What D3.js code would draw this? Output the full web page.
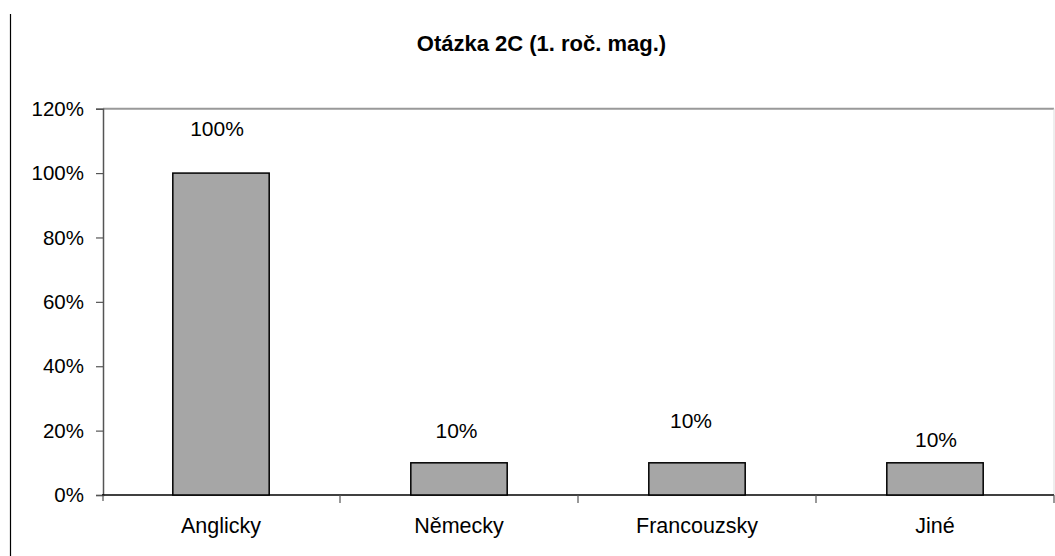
<!DOCTYPE html>
<html><head><meta charset="utf-8">
<script src="https://cdn.jsdelivr.net/npm/d3@7"></script>
<style>body{margin:0;background:#fff}svg{display:block;font-family:"Liberation Sans",Arial,sans-serif}</style>
</head><body>
<svg id="c" width="1055" height="556"></svg>
<script>
const title = "Otázka 2C (1. roč. mag.)";
const categories = ["Anglicky", "Německy", "Francouzsky", "Jiné"];
const values = [1.0, 0.1, 0.1, 0.1];
const yTicks = [0, 0.2, 0.4, 0.6, 0.8, 1.0, 1.2];
// label placement tweaks (pixels above bar top, horizontal nudge)
const labelLift = [37, 24.5, 34.5, 16];
const labelShift = [-4, -2.5, -6, 1];

const svg = d3.select("#c");
const L = 103, R = 1054, T = 108.7, B = 495;
const x = d3.scaleBand().domain(categories).range([102, 1054]).padding(0);
const y = d3.scaleLinear().domain([0, 1.2]).range([B, T]);
const fmt = d3.format(".0%");

// outer left frame line
svg.append("line").attr("x1", 10.5).attr("x2", 10.5).attr("y1", 14).attr("y2", 556)
  .attr("stroke", "#000").attr("stroke-width", 1.2);

// title
svg.append("text").attr("x", 541.5).attr("y", 50.5).attr("text-anchor", "middle")
  .attr("font-weight", "bold").attr("font-size", 22).attr("fill", "#000").text(title);

// plot frame top/right
svg.append("line").attr("x1", L).attr("x2", R).attr("y1", T).attr("y2", T)
  .attr("stroke", "#999").attr("stroke-width", 2);
svg.append("line").attr("x1", R).attr("x2", R).attr("y1", T).attr("y2", B)
  .attr("stroke", "#ddd").attr("stroke-width", 1);

// y axis
const yAxis = d3.axisLeft(y).tickValues(yTicks).tickFormat(fmt).tickSize(7).tickPadding(12);
const ga = svg.append("g").attr("transform", `translate(${L},0)`).call(yAxis);
ga.select(".domain").attr("stroke", "#555").attr("stroke-width", 1.5);
ga.selectAll(".tick line").attr("stroke", "#555").attr("stroke-width", 1.2);
ga.selectAll(".tick text").attr("font-size", 20.5).attr("fill", "#000")
  .attr("font-family", "Liberation Sans, Arial, sans-serif");

// x axis
const xAxis = d3.axisBottom(x).tickSize(0);
const gx = svg.append("g").attr("transform", `translate(0,${B})`).call(xAxis);
gx.select(".domain").remove();
gx.selectAll(".tick text").attr("font-size", 21.5).attr("fill", "#000")
  .attr("font-family", "Liberation Sans, Arial, sans-serif")
  .attr("y", 38.3).attr("dy", null);
svg.append("line").attr("x1", L - 1).attr("x2", R).attr("y1", B).attr("y2", B)
  .attr("stroke", "#000").attr("stroke-width", 1.5);
// category boundary ticks
const bounds = categories.map(c => x(c)).concat([x(categories[categories.length - 1]) + x.step()]);
svg.selectAll(".bt").data(bounds.slice(1)).join("line")
  .attr("x1", d => d).attr("x2", d => d).attr("y1", B).attr("y2", B + 8)
  .attr("stroke", "#555").attr("stroke-width", 1.2);
svg.append("line").attr("x1", L).attr("x2", L).attr("y1", B).attr("y2", B + 6)
  .attr("stroke", "#555").attr("stroke-width", 1.2);

// bars
const bw = x.step() * 0.405;
svg.selectAll(".bar").data(values).join("rect")
  .attr("x", (d, i) => x(categories[i]) + x.bandwidth() / 2 - bw / 2)
  .attr("y", d => y(d)).attr("width", bw).attr("height", d => B - y(d))
  .attr("fill", "#a6a6a6").attr("stroke", "#000").attr("stroke-width", 1.5);

// data labels
svg.selectAll(".lbl").data(values).join("text")
  .attr("x", (d, i) => x(categories[i]) + x.bandwidth() / 2 + labelShift[i])
  .attr("y", (d, i) => y(d) - labelLift[i])
  .attr("text-anchor", "middle").attr("font-size", 21).attr("fill", "#000")
  .text(d => fmt(d));
</script>
</body></html>
